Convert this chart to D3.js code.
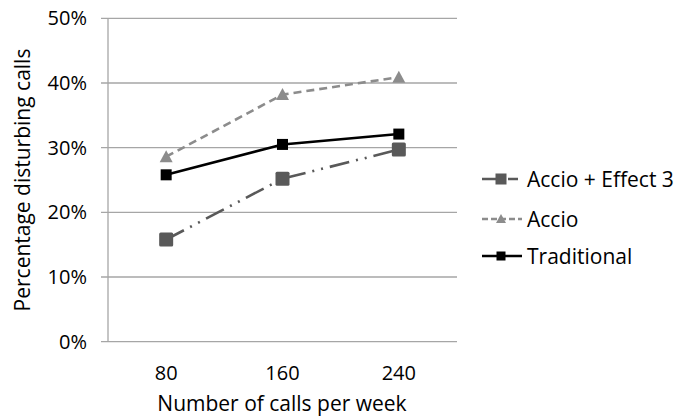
<!DOCTYPE html>
<html><head><meta charset="utf-8">
<script src="https://cdn.jsdelivr.net/npm/d3@7"></script>
<style>body{margin:0;background:#fff}svg{display:block}text{font-family:"Open Sans",sans-serif;fill:#000}</style>
</head><body><svg id="c" width="694" height="418"></svg>
<script>
const categories = ["80","160","240"];
const effect3 = [15.8, 25.2, 29.7];
const accio = [28.6, 38.2, 40.9];
const traditional = [25.8, 30.5, 32.1];
const yTicks = [0,10,20,30,40,50];
const seriesNames = ["Accio + Effect 3","Accio","Traditional"];

const svg = d3.select("#c");
const pLeft=108, pRight=457, pTop=18.3, pBottom=341.7;
const x = d3.scaleBand().domain(categories).range([pLeft,pRight]);
const y = d3.scaleLinear().domain([0,50]).range([pBottom,pTop]);

svg.append("g").selectAll("line").data(yTicks).join("line")
  .attr("x1",101).attr("x2",pRight).attr("y1",d=>y(d)).attr("y2",d=>y(d))
  .attr("stroke","#a6a6a6").attr("stroke-width",1.3);
svg.append("line").attr("x1",pLeft).attr("x2",pLeft).attr("y1",pTop).attr("y2",pBottom)
  .attr("stroke","#a6a6a6").attr("stroke-width",1.3);
svg.append("g").selectAll("text").data(yTicks).join("text")
  .attr("x",87).attr("y",d=>y(d)).attr("dy","0.35em").attr("text-anchor","end")
  .attr("font-size",20).text(d=>d+"%");
svg.append("g").selectAll("text").data(categories).join("text")
  .attr("x",d=>x(d)+x.bandwidth()/2).attr("y",380).attr("text-anchor","middle")
  .attr("font-size",20).text(d=>d);
svg.append("text").attr("x",282).attr("y",411).attr("text-anchor","middle")
  .attr("font-size",21).text("Number of calls per week");
svg.append("text").attr("transform","translate(30,180) rotate(-90)").attr("text-anchor","middle")
  .attr("font-size",21).text("Percentage disturbing calls");

const cx = d=>x(d)+x.bandwidth()/2;
const series = [
  {name:seriesNames[0], vals:effect3, color:"#595959", dash:"20,7,2,7,2,7", marker:"square", size:14},
  {name:seriesNames[1], vals:accio, color:"#8c8c8c", dash:"8,5", marker:"triangle", size:11},
  {name:seriesNames[2], vals:traditional, color:"#000000", dash:null, marker:"square", size:11}
];
const line = d3.line().x(d=>cx(d.c)).y(d=>y(d.v));
function drawMarker(g, m, px, py, s, color){
  if(m==="square") g.append("rect").attr("x",px-s/2).attr("y",py-s/2).attr("width",s).attr("height",s).attr("fill",color).attr("rx", s>12?1.5:0);
  else g.append("path").attr("d",`M${px},${py-s/2-1}L${px+s/2+1},${py+s/2}L${px-s/2-1},${py+s/2}Z`).attr("fill",color);
}
series.forEach(s=>{
  const pts = categories.map((c,i)=>({c, v:s.vals[i]}));
  svg.append("path").attr("d",line(pts)).attr("fill","none").attr("stroke",s.color)
    .attr("stroke-width",2.6).attr("stroke-dasharray",s.dash);
  const g = svg.append("g");
  pts.forEach(p=>drawMarker(g,s.marker,cx(p.c),y(p.v),s.size,s.color));
});
const ly = [179, 219, 256];
series.forEach((s,i)=>{
  const g = svg.append("g");
  g.append("line").attr("x1",482).attr("x2",i===0?518:522).attr("y1",ly[i]).attr("y2",ly[i])
   .attr("stroke",s.color).attr("stroke-width",2.6)
   .attr("stroke-dasharray", i===0?"14,4,2,6":(i===1?"6,3":null));
  drawMarker(g,s.marker,501,ly[i], i===0?11:(i===1?8:9), s.color);
  g.append("text").attr("x",527).attr("y",ly[i]).attr("dy","0.36em").attr("font-size",21).text(s.name);
});
</script></body></html>
